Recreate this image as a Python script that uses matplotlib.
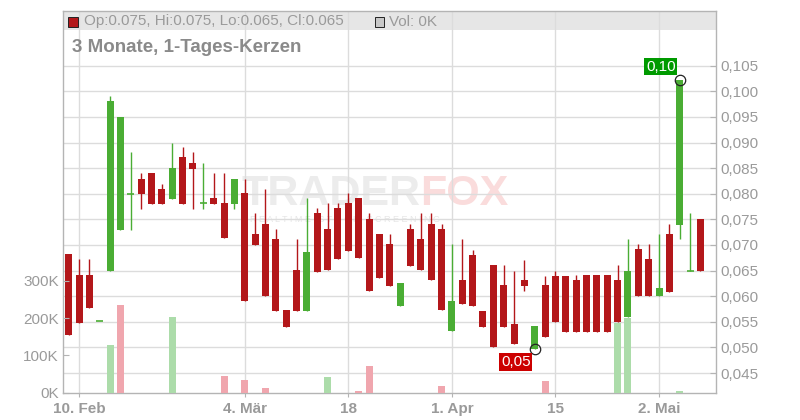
import matplotlib
matplotlib.use("Agg")
import matplotlib.pyplot as plt
import numpy as np
import pandas as pd
from matplotlib.patches import Rectangle

plt.rcParams['font.family'] = ['Liberation Sans', 'DejaVu Sans']

# ---------------- data ----------------
holidays = ["2025-04-18", "2025-04-21", "2025-05-01"]
dates = pd.bdate_range("2025-02-07", "2025-05-08")
dates = dates[~dates.isin(pd.to_datetime(holidays))]

opens = [0.0682, 0.0641, 0.0641, 0.0552, 0.0649, 0.0729, 0.0800, 0.0829, 0.0841, 0.0810,
         0.0790, 0.0871, 0.0861, 0.0781, 0.0791, 0.0781, 0.0780, 0.0801, 0.0721, 0.0741,
         0.0711, 0.0574, 0.0651, 0.0572, 0.0762, 0.0731, 0.0772, 0.0781, 0.0791, 0.0751,
         0.0721, 0.0701, 0.0580, 0.0731, 0.0711, 0.0741, 0.0731, 0.0533, 0.0631, 0.0681,
         0.0572, 0.0660, 0.0621, 0.0545, 0.0631, 0.0496, 0.0621, 0.0640, 0.0640, 0.0631,
         0.0641, 0.0641, 0.0641, 0.0631, 0.0560, 0.0692, 0.0672, 0.0601, 0.0721, 0.0739,
         0.0650, 0.0750]
highs = [0.0682, 0.0672, 0.0672, 0.0552, 0.0990, 0.0950, 0.0881, 0.0841, 0.0841, 0.0820,
         0.0900, 0.0891, 0.0881, 0.0861, 0.0841, 0.0841, 0.0829, 0.0829, 0.0762, 0.0810,
         0.0731, 0.0574, 0.0711, 0.0791, 0.0772, 0.0781, 0.0781, 0.0801, 0.0791, 0.0762,
         0.0721, 0.0721, 0.0625, 0.0741, 0.0762, 0.0762, 0.0741, 0.0701, 0.0711, 0.0691,
         0.0572, 0.0660, 0.0660, 0.0650, 0.0671, 0.0541, 0.0640, 0.0650, 0.0640, 0.0641,
         0.0641, 0.0641, 0.0641, 0.0660, 0.0711, 0.0701, 0.0701, 0.0721, 0.0740, 0.1022,
         0.0762, 0.0750]
lows = [0.0524, 0.0547, 0.0576, 0.0552, 0.0649, 0.0729, 0.0729, 0.0771, 0.0780, 0.0780,
        0.0790, 0.0780, 0.0771, 0.0771, 0.0780, 0.0713, 0.0771, 0.0590, 0.0700, 0.0600,
        0.0572, 0.0539, 0.0572, 0.0572, 0.0647, 0.0651, 0.0672, 0.0688, 0.0674, 0.0611,
        0.0636, 0.0619, 0.0580, 0.0659, 0.0651, 0.0631, 0.0573, 0.0533, 0.0584, 0.0580,
        0.0539, 0.0501, 0.0540, 0.0507, 0.0610, 0.0496, 0.0520, 0.0549, 0.0531, 0.0531,
        0.0531, 0.0531, 0.0531, 0.0550, 0.0560, 0.0601, 0.0601, 0.0601, 0.0608, 0.0711,
        0.0650, 0.0650]
closes = [0.0524, 0.0547, 0.0576, 0.0552, 0.0981, 0.0950, 0.0800, 0.0800, 0.0780, 0.0780,
          0.0850, 0.0780, 0.0849, 0.0781, 0.0780, 0.0713, 0.0829, 0.0590, 0.0700, 0.0600,
          0.0572, 0.0539, 0.0572, 0.0687, 0.0647, 0.0651, 0.0672, 0.0688, 0.0674, 0.0611,
          0.0636, 0.0619, 0.0625, 0.0659, 0.0651, 0.0631, 0.0573, 0.0591, 0.0584, 0.0580,
          0.0539, 0.0501, 0.0540, 0.0507, 0.0620, 0.0541, 0.0520, 0.0549, 0.0531, 0.0531,
          0.0531, 0.0531, 0.0531, 0.0550, 0.0650, 0.0601, 0.0601, 0.0616, 0.0608, 0.1022,
          0.0650, 0.0650]
volumes_k = [0, 0, 0, 0, 127, 235, 0, 0, 0, 0,
             202, 0, 0, 0, 0, 44, 0, 33, 0, 12,
             0, 0, 0, 0, 0, 41, 0, 0, 4, 71,
             0, 0, 0, 0, 0, 0, 17, 0, 0, 0,
             0, 0, 0, 0, 0, 0, 31, 0, 0, 0,
             0, 0, 0, 187, 200, 0, 0, 0, 0, 3,
             0, 0]

tick_dates = ["2025-02-10", "2025-03-04", "2025-03-18", "2025-04-01", "2025-04-15", "2025-05-02"]
tick_labels = ["10. Feb", "4. Mär", "18", "1. Apr", "15", "2. Mai"]
price_ticks = [0.045, 0.050, 0.055, 0.060, 0.065, 0.070, 0.075, 0.080, 0.085, 0.090, 0.095, 0.100, 0.105]
vol_ticks = [0, 100, 200, 300]
vol_tick_labels = ["0K", "100K", "200K", "300K"]

title = "3 Monate, 1-Tages-Kerzen"
header = "Op:0.075, Hi:0.075, Lo:0.065, Cl:0.065"
vol_header = "Vol: 0K"

# ---------------- style ----------------
RED = '#b3171a'
GREEN = '#4aad34'
VOL_GREEN = '#acdcaa'
VOL_RED = '#f0a6ae'
GRID = '#dcdcdc'
SPINE = '#b4b4b4'
TXT = '#9a9a9a'

o = np.array(opens); h = np.array(highs); l = np.array(lows); c = np.array(closes)
v = np.array(volumes_k, dtype=float)
x = np.arange(len(dates))
W = 0.68

fig = plt.figure(figsize=(8, 4.2), dpi=100)
L, R, T, B = 63, 716, 11, 392.5
ax = fig.add_axes([L / 800, 1 - B / 420, (R - L) / 800, (B - T) / 420])
ax_vol = ax.twinx()

ax.set_xlim(-0.55, 62.5)
ax.set_ylim(0.0412, 0.11568)
ax_vol.set_ylim(0, 1025)

# header band
band_h = 19 / (B - T)
ax.add_patch(Rectangle((0, 1 - band_h), 1, band_h, transform=ax.transAxes,
                       facecolor='#e6e6e6', edgecolor='none', zorder=0.2))

# grid
ax.set_axisbelow(True)
ax.grid(True, color=GRID, lw=1)

# watermark
wm_y = (B - 205) / (B - T)
ax.text(0.547, wm_y, "TRADER", transform=ax.transAxes, ha='right', va='baseline',
        fontsize=31, fontweight='bold', color='#ececec', zorder=0.3)
ax.text(0.547, wm_y, "FOX", transform=ax.transAxes, ha='left', va='baseline',
        fontsize=31, fontweight='bold', color='#fadcdc', zorder=0.3)
ax.text((250 - L) / (R - L), (B - 215) / (B - T), "R E A L T I M E   S T O C K   S C R E E N I N G",
        transform=ax.transAxes, ha='left', va='top', fontsize=6.5, color='#e6e6e6', zorder=0.3)

# volume bars (colour by close-to-close change)
prev_c = np.concatenate([[c[0]], c[:-1]])
vcol = np.array([VOL_GREEN if ci >= pi else VOL_RED for ci, pi in zip(c, prev_c)])
mask = v > 0
ax_vol.bar(x[mask], v[mask], width=W, color=vcol[mask], linewidth=0, zorder=1)

# candles
up = c >= o
ccol = np.where(up, GREEN, RED)
ax.vlines(x, l, h, colors=ccol, lw=1.0, zorder=2)
body_lo = np.minimum(o, c)
body_h = np.abs(c - o)
doji = body_h < 1e-6
ax.bar(x[~doji], body_h[~doji], bottom=body_lo[~doji], width=W, color=ccol[~doji],
       linewidth=0, zorder=3)
ax.hlines(o[doji], x[doji] - W / 2, x[doji] + W / 2, colors=ccol[doji], lw=1.2, zorder=3)

# high / low markers
ih = int(np.argmax(h)); il = int(np.argmin(l))
ax.plot([ih], [h[ih]], 'o', mfc='none', mec='#222222', ms=7.5, mew=0.9, zorder=5)
ax.plot([il], [l[il]], 'o', mfc='none', mec='#222222', ms=7.5, mew=0.9, zorder=5)
ax.annotate(f"{h[ih]:.2f}".replace('.', ','), xy=(ih, h[ih]), xytext=(-3, 4.5),
            textcoords='offset points', ha='right', va='bottom', color='white', fontsize=11,
            bbox=dict(boxstyle='square,pad=0.1', fc='#009a00', ec='none'), zorder=6)
ax.annotate(f"{l[il]:.2f}".replace('.', ','), xy=(il, l[il]), xytext=(-3, -4),
            textcoords='offset points', ha='right', va='top', color='white', fontsize=11,
            bbox=dict(boxstyle='square,pad=0.12', fc='#cc0000', ec='none'), zorder=6)

# axes / ticks
tick_pos = [int(np.where(dates == pd.Timestamp(d))[0][0]) for d in tick_dates]
ax.set_xticks(tick_pos)
ax.set_xticklabels(tick_labels, fontweight='bold')
ax.set_yticks(price_ticks)
ax.set_yticklabels([f"{p:.3f}".replace('.', ',') for p in price_ticks])
ax.yaxis.tick_right()
ax.tick_params(axis='y', direction='in', length=4, color=SPINE, labelcolor=TXT,
               labelsize=11, pad=3, right=True, left=False, labelright=True, labelleft=False)
ax.tick_params(axis='x', direction='out', length=3, color=SPINE, labelcolor=TXT,
               labelsize=11, pad=4)

ax_vol.set_yticks(vol_ticks)
ax_vol.set_yticklabels(vol_tick_labels)
ax_vol.yaxis.tick_left()
ax_vol.tick_params(axis='y', direction='in', length=4, color=SPINE, labelcolor=TXT,
                   labelsize=11, pad=3, left=True, right=False, labelleft=True, labelright=False)

for s in ax.spines.values():
    s.set_color(SPINE)
    s.set_linewidth(1)
for s in ax_vol.spines.values():
    s.set_visible(False)

# header texts
y_lo = (B - 27) / (B - T); y_hi = (B - 17) / (B - T)
ax.add_patch(Rectangle(((68 - L) / (R - L), y_lo), 10 / (R - L), y_hi - y_lo, transform=ax.transAxes,
                       facecolor=RED, edgecolor='#222222', lw=0.7, zorder=4))
ax.text((84 - L) / (R - L), (B - 21.5) / (B - T), header, transform=ax.transAxes,
        ha='left', va='center', fontsize=11, color=TXT, zorder=4)
ax.add_patch(Rectangle(((375 - L) / (R - L), y_lo), 9 / (R - L), y_hi - y_lo, transform=ax.transAxes,
                       facecolor='#c8c8c8', edgecolor='#222222', lw=0.7, zorder=4))
ax.text((389 - L) / (R - L), (B - 21.5) / (B - T), vol_header, transform=ax.transAxes,
        ha='left', va='center', fontsize=11, color=TXT, zorder=4)
ax.text((72 - L) / (R - L), (B - 47.5) / (B - T), title, transform=ax.transAxes,
        ha='left', va='center', fontsize=13.5, fontweight='bold', color='#8a8a8a', zorder=4)

fig.savefig("out.png", dpi=100)
